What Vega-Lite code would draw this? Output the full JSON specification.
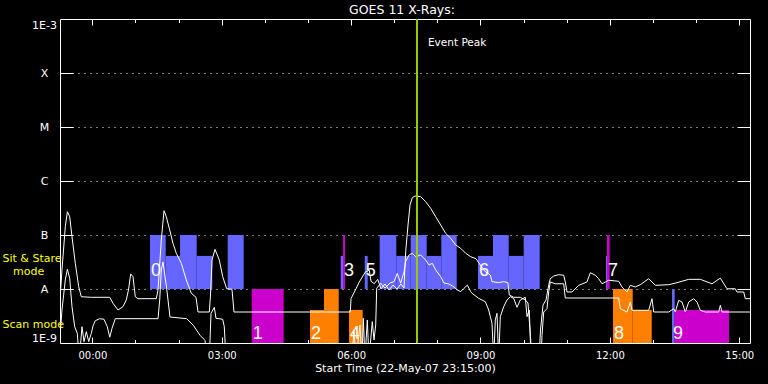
{
"$schema": "https://vega.github.io/schema/vega-lite/v6.json",
"background": "black",
"width": 690,
"height": 324,
"autosize": {"type": "none"},
"padding": {"left": 60, "top": 19, "right": 18, "bottom": 41},
"title": {"text": "GOES 11 X-Rays:", "color": "white", "font": "DejaVu Sans", "fontSize": 12.5, "fontWeight": "normal", "anchor": "middle", "frame": "group", "baseline": "alphabetic", "offset": -8, "dx": -3},
"config": {"view": {"stroke": "white", "strokeWidth": 1}, "axis": {"labelColor": "white", "tickColor": "white", "domain": false, "grid": false, "labelOverlap": false, "labelFont": "DejaVu Sans", "labelFontSize": 10, "tickWidth": 1}},
"datasets": {
"blocks": [
{"t0": 1.337, "t1": 1.701, "f0": 1e-8, "f1": 1e-7, "kind": "blue"},
{"t0": 1.701, "t1": 2.033, "f0": 1e-8, "f1": 4.1e-8, "kind": "blue"},
{"t0": 2.033, "t1": 2.420, "f0": 1e-8, "f1": 1e-7, "kind": "blue"},
{"t0": 2.420, "t1": 2.782, "f0": 1e-8, "f1": 4.1e-8, "kind": "blue"},
{"t0": 3.139, "t1": 3.510, "f0": 1e-8, "f1": 1e-7, "kind": "blue"},
{"t0": 3.695, "t1": 4.437, "f0": 1e-9, "f1": 1e-8, "kind": "magenta"},
{"t0": 5.047, "t1": 5.372, "f0": 1e-9, "f1": 4.1e-9, "kind": "orange"},
{"t0": 5.372, "t1": 5.713, "f0": 1e-9, "f1": 1e-8, "kind": "orange"},
{"t0": 5.759, "t1": 5.813, "f0": 1e-8, "f1": 4.1e-8, "kind": "blue"},
{"t0": 5.813, "t1": 5.859, "f0": 1e-8, "f1": 1e-7, "kind": "magenta"},
{"t0": 5.952, "t1": 6.269, "f0": 1e-9, "f1": 4.1e-9, "kind": "orange"},
{"t0": 6.316, "t1": 6.385, "f0": 1e-8, "f1": 4.1e-8, "kind": "blue"},
{"t0": 6.663, "t1": 7.048, "f0": 1e-8, "f1": 1e-7, "kind": "blue"},
{"t0": 7.048, "t1": 7.382, "f0": 1e-8, "f1": 4.1e-8, "kind": "blue"},
{"t0": 7.382, "t1": 7.753, "f0": 1e-8, "f1": 1e-7, "kind": "blue"},
{"t0": 7.753, "t1": 8.092, "f0": 1e-8, "f1": 4.1e-8, "kind": "blue"},
{"t0": 8.092, "t1": 8.449, "f0": 1e-8, "f1": 1e-7, "kind": "blue"},
{"t0": 8.943, "t1": 9.291, "f0": 1e-8, "f1": 4.1e-8, "kind": "blue"},
{"t0": 9.291, "t1": 9.655, "f0": 1e-8, "f1": 1e-7, "kind": "blue"},
{"t0": 9.655, "t1": 10.003, "f0": 1e-8, "f1": 4.1e-8, "kind": "blue"},
{"t0": 10.003, "t1": 10.374, "f0": 1e-8, "f1": 1e-7, "kind": "blue"},
{"t0": 11.911, "t1": 11.934, "f0": 1e-8, "f1": 4.1e-8, "kind": "blue"},
{"t0": 11.934, "t1": 11.997, "f0": 1e-8, "f1": 1e-7, "kind": "magenta"},
{"t0": 12.073, "t1": 12.530, "f0": 1e-9, "f1": 1e-8, "kind": "orange"},
{"t0": 12.530, "t1": 12.971, "f0": 1e-9, "f1": 4.1e-9, "kind": "orange"},
{"t0": 13.441, "t1": 13.504, "f0": 1e-9, "f1": 1e-8, "kind": "blue"},
{"t0": 13.504, "t1": 14.763, "f0": 1e-9, "f1": 4.1e-9, "kind": "magenta"}
],
"labels": [
{"n": "0", "hour": 1.337, "mode": "SS"},
{"n": "1", "hour": 3.695, "mode": "scan"},
{"n": "2", "hour": 5.047, "mode": "scan"},
{"n": "3", "hour": 5.813, "mode": "SS"},
{"n": "4", "hour": 5.952, "mode": "scan"},
{"n": "5", "hour": 6.316, "mode": "SS"},
{"n": "6", "hour": 8.943, "mode": "SS"},
{"n": "7", "hour": 11.934, "mode": "SS"},
{"n": "8", "hour": 12.073, "mode": "scan"},
{"n": "9", "hour": 13.441, "mode": "scan"}
],
"peak": [{"hour": 7.528, "label": "Event Peak"}],
"curves": [
{"channel": "L", "hour": -0.738, "flux": 8.8e-9},
{"channel": "L", "hour": -0.704, "flux": 2.25e-8},
{"channel": "L", "hour": -0.627, "flux": 1.43e-7},
{"channel": "L", "hour": -0.579, "flux": 2.7e-7},
{"channel": "L", "hour": -0.525, "flux": 2.18e-7},
{"channel": "L", "hour": -0.472, "flux": 9.3e-8},
{"channel": "L", "hour": -0.395, "flux": 2.99e-8},
{"channel": "L", "hour": -0.316, "flux": 1.1e-8},
{"channel": "L", "hour": -0.256, "flux": 7.2e-9},
{"channel": "L", "hour": -0.024, "flux": 7.02e-9},
{"channel": "L", "hour": 0.403, "flux": 7.02e-9},
{"channel": "L", "hour": 0.479, "flux": 5.43e-9},
{"channel": "L", "hour": 0.595, "flux": 4.08e-9},
{"channel": "L", "hour": 0.711, "flux": 4.71e-9},
{"channel": "L", "hour": 0.787, "flux": 6.26e-9},
{"channel": "L", "hour": 0.838, "flux": 9.58e-9},
{"channel": "L", "hour": 0.889, "flux": 1.9e-8},
{"channel": "L", "hour": 0.943, "flux": 1.69e-8},
{"channel": "L", "hour": 0.996, "flux": 7.2e-9},
{"channel": "L", "hour": 1.059, "flux": 6.62e-9},
{"channel": "L", "hour": 1.483, "flux": 6.62e-9},
{"channel": "L", "hour": 1.523, "flux": 9.58e-9},
{"channel": "L", "hour": 1.599, "flux": 8.08e-8},
{"channel": "L", "hour": 1.662, "flux": 2.82e-7},
{"channel": "L", "hour": 1.715, "flux": 2.18e-7},
{"channel": "L", "hour": 1.794, "flux": 1.24e-7},
{"channel": "L", "hour": 1.870, "flux": 7.02e-8},
{"channel": "L", "hour": 1.947, "flux": 4.58e-8},
{"channel": "L", "hour": 2.063, "flux": 2.99e-8},
{"channel": "L", "hour": 2.179, "flux": 1.47e-8},
{"channel": "L", "hour": 2.295, "flux": 8.32e-9},
{"channel": "L", "hour": 2.404, "flux": 7.02e-9},
{"channel": "L", "hour": 2.450, "flux": 3.75e-9},
{"channel": "L", "hour": 2.712, "flux": 3.75e-9},
{"channel": "L", "hour": 2.740, "flux": 7.74e-9},
{"channel": "L", "hour": 2.775, "flux": 3.44e-8},
{"channel": "L", "hour": 2.844, "flux": 5.43e-8},
{"channel": "L", "hour": 2.944, "flux": 3.44e-8},
{"channel": "L", "hour": 3.023, "flux": 1.69e-8},
{"channel": "L", "hour": 3.116, "flux": 1.01e-8},
{"channel": "L", "hour": 3.238, "flux": 9.9e-9},
{"channel": "L", "hour": 3.285, "flux": 3.75e-9},
{"channel": "L", "hour": 5.982, "flux": 3.75e-9},
{"channel": "L", "hour": 5.998, "flux": 6.62e-9},
{"channel": "L", "hour": 6.114, "flux": 1.01e-8},
{"channel": "L", "hour": 6.190, "flux": 1.35e-8},
{"channel": "L", "hour": 6.330, "flux": 2.06e-8},
{"channel": "L", "hour": 6.422, "flux": 2.22e-8},
{"channel": "L", "hour": 6.462, "flux": 1.39e-8},
{"channel": "L", "hour": 6.538, "flux": 1.25e-8},
{"channel": "L", "hour": 6.617, "flux": 1.51e-8},
{"channel": "L", "hour": 6.693, "flux": 1.01e-8},
{"channel": "L", "hour": 6.786, "flux": 1.24e-8},
{"channel": "L", "hour": 6.879, "flux": 9.58e-9},
{"channel": "L", "hour": 6.972, "flux": 1.18e-8},
{"channel": "L", "hour": 7.065, "flux": 1.0e-8},
{"channel": "L", "hour": 7.157, "flux": 1.24e-8},
{"channel": "L", "hour": 7.227, "flux": 1.04e-8},
{"channel": "L", "hour": 7.266, "flux": 4.91e-8},
{"channel": "L", "hour": 7.320, "flux": 1.53e-7},
{"channel": "L", "hour": 7.366, "flux": 3.6e-7},
{"channel": "L", "hour": 7.419, "flux": 4.91e-7},
{"channel": "L", "hour": 7.482, "flux": 5.27e-7},
{"channel": "L", "hour": 7.614, "flux": 5.12e-7},
{"channel": "L", "hour": 7.730, "flux": 4.14e-7},
{"channel": "L", "hour": 7.846, "flux": 3.12e-7},
{"channel": "L", "hour": 7.962, "flux": 2.18e-7},
{"channel": "L", "hour": 8.078, "flux": 1.53e-7},
{"channel": "L", "hour": 8.194, "flux": 1.07e-7},
{"channel": "L", "hour": 8.310, "flux": 8.69e-8},
{"channel": "L", "hour": 8.426, "flux": 6.53e-8},
{"channel": "L", "hour": 8.542, "flux": 5.67e-8},
{"channel": "L", "hour": 8.658, "flux": 4.58e-8},
{"channel": "L", "hour": 8.774, "flux": 3.96e-8},
{"channel": "L", "hour": 8.896, "flux": 3.64e-8},
{"channel": "L", "hour": 9.012, "flux": 2.67e-8},
{"channel": "L", "hour": 9.112, "flux": 2.09e-8},
{"channel": "L", "hour": 9.228, "flux": 1.82e-8},
{"channel": "L", "hour": 9.267, "flux": 1.37e-8},
{"channel": "L", "hour": 9.423, "flux": 1.31e-8},
{"channel": "L", "hour": 9.539, "flux": 1.37e-8},
{"channel": "L", "hour": 9.638, "flux": 1.31e-8},
{"channel": "L", "hour": 9.669, "flux": 7.74e-9},
{"channel": "L", "hour": 9.771, "flux": 7.02e-9},
{"channel": "L", "hour": 9.924, "flux": 7.02e-9},
{"channel": "L", "hour": 10.040, "flux": 6.26e-9},
{"channel": "L", "hour": 10.102, "flux": 5.51e-9},
{"channel": "L", "hour": 10.149, "flux": 1.74e-9},
{"channel": "L", "hour": 10.195, "flux": 5e-10},
{"channel": "L", "hour": 10.357, "flux": 5e-10},
{"channel": "L", "hour": 10.392, "flux": 1.74e-9},
{"channel": "L", "hour": 10.450, "flux": 5.05e-9},
{"channel": "L", "hour": 10.520, "flux": 6.26e-9},
{"channel": "L", "hour": 10.582, "flux": 1.18e-8},
{"channel": "L", "hour": 10.619, "flux": 1.55e-8},
{"channel": "L", "hour": 10.698, "flux": 1.74e-8},
{"channel": "L", "hour": 10.814, "flux": 1.84e-8},
{"channel": "L", "hour": 10.930, "flux": 1.80e-8},
{"channel": "L", "hour": 10.967, "flux": 1.35e-8},
{"channel": "L", "hour": 11.007, "flux": 8.8e-9},
{"channel": "L", "hour": 11.123, "flux": 8.8e-9},
{"channel": "L", "hour": 11.278, "flux": 1.17e-8},
{"channel": "L", "hour": 11.470, "flux": 1.35e-8},
{"channel": "L", "hour": 11.547, "flux": 2.0e-8},
{"channel": "L", "hour": 11.663, "flux": 1.80e-8},
{"channel": "L", "hour": 11.742, "flux": 1.55e-8},
{"channel": "L", "hour": 11.818, "flux": 1.25e-8},
{"channel": "L", "hour": 11.974, "flux": 1.45e-8},
{"channel": "L", "hour": 12.205, "flux": 1.39e-8},
{"channel": "L", "hour": 12.282, "flux": 1.09e-8},
{"channel": "L", "hour": 12.398, "flux": 8.8e-9},
{"channel": "L", "hour": 12.474, "flux": 1.17e-8},
{"channel": "L", "hour": 12.590, "flux": 1.09e-8},
{"channel": "L", "hour": 12.706, "flux": 1.20e-8},
{"channel": "L", "hour": 12.901, "flux": 1.55e-8},
{"channel": "L", "hour": 13.054, "flux": 1.17e-8},
{"channel": "L", "hour": 13.365, "flux": 1.20e-8},
{"channel": "L", "hour": 13.557, "flux": 1.31e-8},
{"channel": "L", "hour": 13.829, "flux": 1.51e-8},
{"channel": "L", "hour": 14.098, "flux": 1.51e-8},
{"channel": "L", "hour": 14.369, "flux": 1.25e-8},
{"channel": "L", "hour": 14.562, "flux": 1.59e-8},
{"channel": "L", "hour": 14.717, "flux": 1.01e-8},
{"channel": "L", "hour": 14.909, "flux": 1.01e-8},
{"channel": "L", "hour": 14.948, "flux": 8.8e-9},
{"channel": "L", "hour": 15.104, "flux": 8.8e-9},
{"channel": "L", "hour": 15.141, "flux": 6.62e-9},
{"channel": "L", "hour": 15.25, "flux": 6.62e-9},
{"channel": "S", "hour": -0.738, "flux": 1.74e-9},
{"channel": "S", "hour": -0.704, "flux": 4.08e-9},
{"channel": "S", "hour": -0.627, "flux": 1.47e-8},
{"channel": "S", "hour": -0.579, "flux": 2.32e-8},
{"channel": "S", "hour": -0.525, "flux": 1.58e-8},
{"channel": "S", "hour": -0.472, "flux": 4.71e-9},
{"channel": "S", "hour": -0.409, "flux": 2.0e-9},
{"channel": "S", "hour": -0.349, "flux": 1.51e-9},
{"channel": "S", "hour": -0.302, "flux": 5e-10},
{"channel": "S", "hour": -0.240, "flux": 2.0e-9},
{"channel": "S", "hour": -0.193, "flux": 1.06e-9},
{"channel": "S", "hour": -0.140, "flux": 1.62e-9},
{"channel": "S", "hour": -0.084, "flux": 1.06e-9},
{"channel": "S", "hour": -0.024, "flux": 1.51e-9},
{"channel": "S", "hour": 0.015, "flux": 2.07e-9},
{"channel": "S", "hour": 0.069, "flux": 2.59e-9},
{"channel": "S", "hour": 0.171, "flux": 2.82e-9},
{"channel": "S", "hour": 0.270, "flux": 2.75e-9},
{"channel": "S", "hour": 0.347, "flux": 2.0e-9},
{"channel": "S", "hour": 0.403, "flux": 1.28e-9},
{"channel": "S", "hour": 0.456, "flux": 1.87e-9},
{"channel": "S", "hour": 0.532, "flux": 2.82e-9},
{"channel": "S", "hour": 1.523, "flux": 2.82e-9},
{"channel": "S", "hour": 1.562, "flux": 6.26e-9},
{"channel": "S", "hour": 1.599, "flux": 2.25e-8},
{"channel": "S", "hour": 1.638, "flux": 3.16e-8},
{"channel": "S", "hour": 1.724, "flux": 1.01e-8},
{"channel": "S", "hour": 1.801, "flux": 3.03e-9},
{"channel": "S", "hour": 2.188, "flux": 2.82e-9},
{"channel": "S", "hour": 2.341, "flux": 2.13e-9},
{"channel": "S", "hour": 2.497, "flux": 1.39e-9},
{"channel": "S", "hour": 2.612, "flux": 1.12e-9},
{"channel": "S", "hour": 2.659, "flux": 5e-10},
{"channel": "S", "hour": 2.712, "flux": 5e-10},
{"channel": "S", "hour": 2.752, "flux": 3.55e-9},
{"channel": "S", "hour": 2.828, "flux": 4.58e-9},
{"channel": "S", "hour": 2.867, "flux": 2.87e-9},
{"channel": "S", "hour": 3.023, "flux": 2.75e-9},
{"channel": "S", "hour": 3.060, "flux": 2.0e-9},
{"channel": "S", "hour": 3.099, "flux": 5e-10},
{"channel": "S", "hour": 6.021, "flux": 5e-10},
{"channel": "S", "hour": 6.067, "flux": 1.74e-9},
{"channel": "S", "hour": 6.114, "flux": 5e-10},
{"channel": "S", "hour": 6.207, "flux": 2.15e-9},
{"channel": "S", "hour": 6.253, "flux": 5e-10},
{"channel": "S", "hour": 6.283, "flux": 2.87e-9},
{"channel": "S", "hour": 6.322, "flux": 5e-10},
{"channel": "S", "hour": 6.376, "flux": 2.67e-9},
{"channel": "S", "hour": 6.415, "flux": 5e-10},
{"channel": "S", "hour": 6.492, "flux": 2.48e-9},
{"channel": "S", "hour": 6.531, "flux": 1.14e-9},
{"channel": "S", "hour": 6.571, "flux": 2.15e-9},
{"channel": "S", "hour": 6.594, "flux": 1.03e-8},
{"channel": "S", "hour": 6.687, "flux": 1.28e-8},
{"channel": "S", "hour": 6.786, "flux": 1.04e-8},
{"channel": "S", "hour": 6.902, "flux": 1.29e-8},
{"channel": "S", "hour": 6.995, "flux": 1.37e-8},
{"channel": "S", "hour": 7.071, "flux": 1.95e-8},
{"channel": "S", "hour": 7.150, "flux": 1.28e-8},
{"channel": "S", "hour": 7.227, "flux": 2.09e-8},
{"channel": "S", "hour": 7.266, "flux": 3.22e-8},
{"channel": "S", "hour": 7.343, "flux": 4.26e-8},
{"channel": "S", "hour": 7.419, "flux": 4.58e-8},
{"channel": "S", "hour": 7.498, "flux": 3.96e-8},
{"channel": "S", "hour": 7.614, "flux": 4.26e-8},
{"channel": "S", "hour": 7.730, "flux": 3.44e-8},
{"channel": "S", "hour": 7.807, "flux": 2.78e-8},
{"channel": "S", "hour": 7.883, "flux": 2.99e-8},
{"channel": "S", "hour": 7.962, "flux": 2.25e-8},
{"channel": "S", "hour": 8.078, "flux": 1.69e-8},
{"channel": "S", "hour": 8.154, "flux": 1.29e-8},
{"channel": "S", "hour": 8.270, "flux": 1.24e-8},
{"channel": "S", "hour": 8.386, "flux": 1.09e-8},
{"channel": "S", "hour": 8.463, "flux": 9.58e-9},
{"channel": "S", "hour": 8.542, "flux": 8.92e-9},
{"channel": "S", "hour": 8.618, "flux": 1.03e-8},
{"channel": "S", "hour": 8.695, "flux": 1.18e-8},
{"channel": "S", "hour": 8.774, "flux": 8.92e-9},
{"channel": "S", "hour": 8.804, "flux": 8.32e-9},
{"channel": "S", "hour": 8.959, "flux": 6.71e-9},
{"channel": "S", "hour": 9.112, "flux": 5.82e-9},
{"channel": "S", "hour": 9.191, "flux": 4.08e-9},
{"channel": "S", "hour": 9.267, "flux": 2.32e-9},
{"channel": "S", "hour": 9.307, "flux": 5e-10},
{"channel": "S", "hour": 9.344, "flux": 2.67e-9},
{"channel": "S", "hour": 9.383, "flux": 3.55e-9},
{"channel": "S", "hour": 9.423, "flux": 5e-10},
{"channel": "S", "hour": 9.460, "flux": 3.07e-9},
{"channel": "S", "hour": 9.539, "flux": 4.71e-9},
{"channel": "S", "hour": 9.615, "flux": 6.26e-9},
{"channel": "S", "hour": 9.692, "flux": 7.2e-9},
{"channel": "S", "hour": 9.771, "flux": 6.71e-9},
{"channel": "S", "hour": 9.847, "flux": 4.58e-9},
{"channel": "S", "hour": 9.924, "flux": 6.26e-9},
{"channel": "S", "hour": 10.040, "flux": 7.02e-9},
{"channel": "S", "hour": 10.079, "flux": 3.07e-9},
{"channel": "S", "hour": 10.132, "flux": 4.08e-9},
{"channel": "S", "hour": 10.172, "flux": 5e-10},
{"channel": "S", "hour": 10.404, "flux": 5e-10},
{"channel": "S", "hour": 10.427, "flux": 1.39e-9},
{"channel": "S", "hour": 10.466, "flux": 3.75e-9},
{"channel": "S", "hour": 10.543, "flux": 4.32e-9},
{"channel": "S", "hour": 10.582, "flux": 8.8e-9},
{"channel": "S", "hour": 10.619, "flux": 1.35e-8},
{"channel": "S", "hour": 10.735, "flux": 1.25e-8},
{"channel": "S", "hour": 10.930, "flux": 1.25e-8},
{"channel": "S", "hour": 10.967, "flux": 6.81e-9},
{"channel": "S", "hour": 12.205, "flux": 6.81e-9},
{"channel": "S", "hour": 12.243, "flux": 4.32e-9},
{"channel": "S", "hour": 12.398, "flux": 3.75e-9},
{"channel": "S", "hour": 12.474, "flux": 5.74e-9},
{"channel": "S", "hour": 12.514, "flux": 4.03e-9},
{"channel": "S", "hour": 12.901, "flux": 4.03e-9},
{"channel": "S", "hour": 12.977, "flux": 6.62e-9},
{"channel": "S", "hour": 13.017, "flux": 3.75e-9},
{"channel": "S", "hour": 13.365, "flux": 3.75e-9},
{"channel": "S", "hour": 13.481, "flux": 4.32e-9},
{"channel": "S", "hour": 13.518, "flux": 3.75e-9},
{"channel": "S", "hour": 13.597, "flux": 6.18e-9},
{"channel": "S", "hour": 13.673, "flux": 5.74e-9},
{"channel": "S", "hour": 13.750, "flux": 3.75e-9},
{"channel": "S", "hour": 13.829, "flux": 5.74e-9},
{"channel": "S", "hour": 13.945, "flux": 6.62e-9},
{"channel": "S", "hour": 14.021, "flux": 5.74e-9},
{"channel": "S", "hour": 14.098, "flux": 4.03e-9},
{"channel": "S", "hour": 14.214, "flux": 3.75e-9},
{"channel": "S", "hour": 14.524, "flux": 3.75e-9},
{"channel": "S", "hour": 14.562, "flux": 4.99e-9},
{"channel": "S", "hour": 14.601, "flux": 3.75e-9},
{"channel": "S", "hour": 15.25, "flux": 3.75e-9}
]
},
"layer": [
{
"data": {"name": "blocks"},
"mark": {"type": "rect"},
"encoding": {
"x": {"field": "t0", "type": "quantitative", "scale": {"domain": [-0.75, 15.25], "nice": false, "zero": false},
"axis": {"orient": "bottom", "values": [0, 3, 6, 9, 12, 15], "labelExpr": "(datum.value < 10 ? '0' : '') + datum.value + ':00'", "ticks": false, "domain": false, "grid": false, "labelPadding": 7, "labelColor": "white", "labelFont": "DejaVu Sans", "labelFontSize": 10, "labelFlush": false, "title": "Start Time (22-May-07 23:15:00)", "titleColor": "white", "titleFont": "DejaVu Sans", "titleFontSize": 11, "titleFontWeight": "normal", "titlePadding": 2}},
"x2": {"field": "t1"},
"y": {"field": "f0", "type": "quantitative", "scale": {"type": "log", "domain": [1e-9, 1e-3], "nice": false},
"axis": {"orient": "left", "values": [1e-9, 1e-8, 1e-7, 1e-6, 1e-5, 1e-4, 1e-3], "labelExpr": "datum.value >= 9e-4 ? '1E-3' : datum.value >= 9e-5 ? 'X' : datum.value >= 9e-6 ? 'M' : datum.value >= 9e-7 ? 'C' : datum.value >= 9e-8 ? 'B' : datum.value >= 9e-9 ? 'A' : '1E-9'", "ticks": false, "domain": false, "grid": false, "labelAlign": "center", "labelPadding": 16, "labelFlush": true, "labelFlushOffset": 0, "labelColor": "white", "labelFont": "DejaVu Sans", "labelFontSize": 11, "title": null}},
"y2": {"field": "f1"},
"color": {"field": "kind", "type": "nominal", "scale": {"domain": ["blue", "orange", "magenta"], "range": ["#6666FF", "#FF8000", "#CC00CC"]}, "legend": null}
}
},
{
"data": {"name": "curves"},
"mark": {"type": "line", "color": "white", "strokeWidth": 1, "clip": true},
"encoding": {
"x": {"field": "hour", "type": "quantitative", "axis": {"orient": "bottom", "values": [0, 3, 6, 9, 12, 15], "labels": false, "domain": false, "ticks": true, "tickSize": -6, "grid": false, "title": null}},
"y": {"field": "flux", "type": "quantitative", "axis": {"orient": "left", "values": [1e-8, 1e-7, 1e-6, 1e-5, 1e-4], "labels": false, "domain": false, "ticks": true, "tickSize": -13, "grid": true, "gridColor": "white", "gridDash": [1, 5], "gridOpacity": 1, "gridWidth": 1, "title": null}},
"detail": {"field": "channel", "type": "nominal"}
}
},
{
"data": {"name": "peak"},
"mark": {"type": "rule", "color": "#99CC00", "strokeWidth": 2},
"encoding": {
"x": {"field": "hour", "type": "quantitative", "axis": {"orient": "top", "values": [0, 3, 6, 9, 12, 15], "labels": false, "domain": false, "ticks": true, "tickSize": -6, "grid": false, "title": null}}
}
},
{
"data": {"name": "peak"},
"mark": {"type": "text", "color": "white", "align": "left", "baseline": "middle", "dx": 11, "font": "DejaVu Sans", "fontSize": 10.5},
"encoding": {
"x": {"field": "hour", "type": "quantitative", "axis": {"orient": "top", "values": [0, 1, 2, 3, 4, 5, 6, 7, 8, 9, 10, 11, 12, 13, 14, 15], "labels": false, "domain": false, "ticks": true, "tickSize": -3.5, "grid": false, "title": null}},
"y": {"datum": 3.6e-4, "type": "quantitative", "axis": {"orient": "right", "values": [1e-8, 1e-7, 1e-6, 1e-5, 1e-4], "labels": false, "domain": false, "ticks": true, "tickSize": -13, "grid": false, "title": null}},
"text": {"field": "label"}
}
},
{
"data": {"name": "labels"},
"transform": [{"filter": "datum.mode === 'SS'"}],
"mark": {"type": "text", "color": "white", "align": "left", "baseline": "middle", "dx": 1, "font": "Liberation Sans Narrow, Liberation Sans", "fontSize": 18},
"encoding": {
"x": {"field": "hour", "type": "quantitative", "axis": {"orient": "bottom", "values": [0, 1, 2, 3, 4, 5, 6, 7, 8, 9, 10, 11, 12, 13, 14, 15], "labels": false, "domain": false, "ticks": true, "tickSize": -3.5, "grid": false, "title": null}},
"y": {"datum": 2.17e-8, "type": "quantitative", "axis": {"orient": "left", "values": [2.22e-9, 3.64e-8], "labelExpr": "datum.value > 1e-8 ? 'Sit & Stare' : 'Scan mode'", "ticks": false, "domain": false, "grid": false, "labelAlign": "left", "labelBaseline": "middle", "labelPadding": 58, "labelColor": "#FFFF00", "labelFont": "DejaVu Sans", "labelFontSize": 11, "labelFlush": false, "title": null}},
"text": {"field": "n"}
}
},
{
"data": {"name": "labels"},
"transform": [{"filter": "datum.mode === 'scan'"}],
"mark": {"type": "text", "color": "white", "align": "left", "baseline": "middle", "dx": 1, "font": "Liberation Sans Narrow, Liberation Sans", "fontSize": 18},
"encoding": {
"x": {"field": "hour", "type": "quantitative", "axis": null},
"y": {"datum": 1.47e-9, "type": "quantitative", "axis": {"orient": "left", "values": [2.15e-8], "labelExpr": "'mode'", "ticks": false, "domain": false, "grid": false, "labelAlign": "left", "labelBaseline": "middle", "labelPadding": 47.5, "labelColor": "#FFFF00", "labelFont": "DejaVu Sans", "labelFontSize": 11, "labelFlush": false, "title": null}},
"text": {"field": "n"}
}
}
],
"resolve": {"axis": {"x": "independent", "y": "independent"}}
}
